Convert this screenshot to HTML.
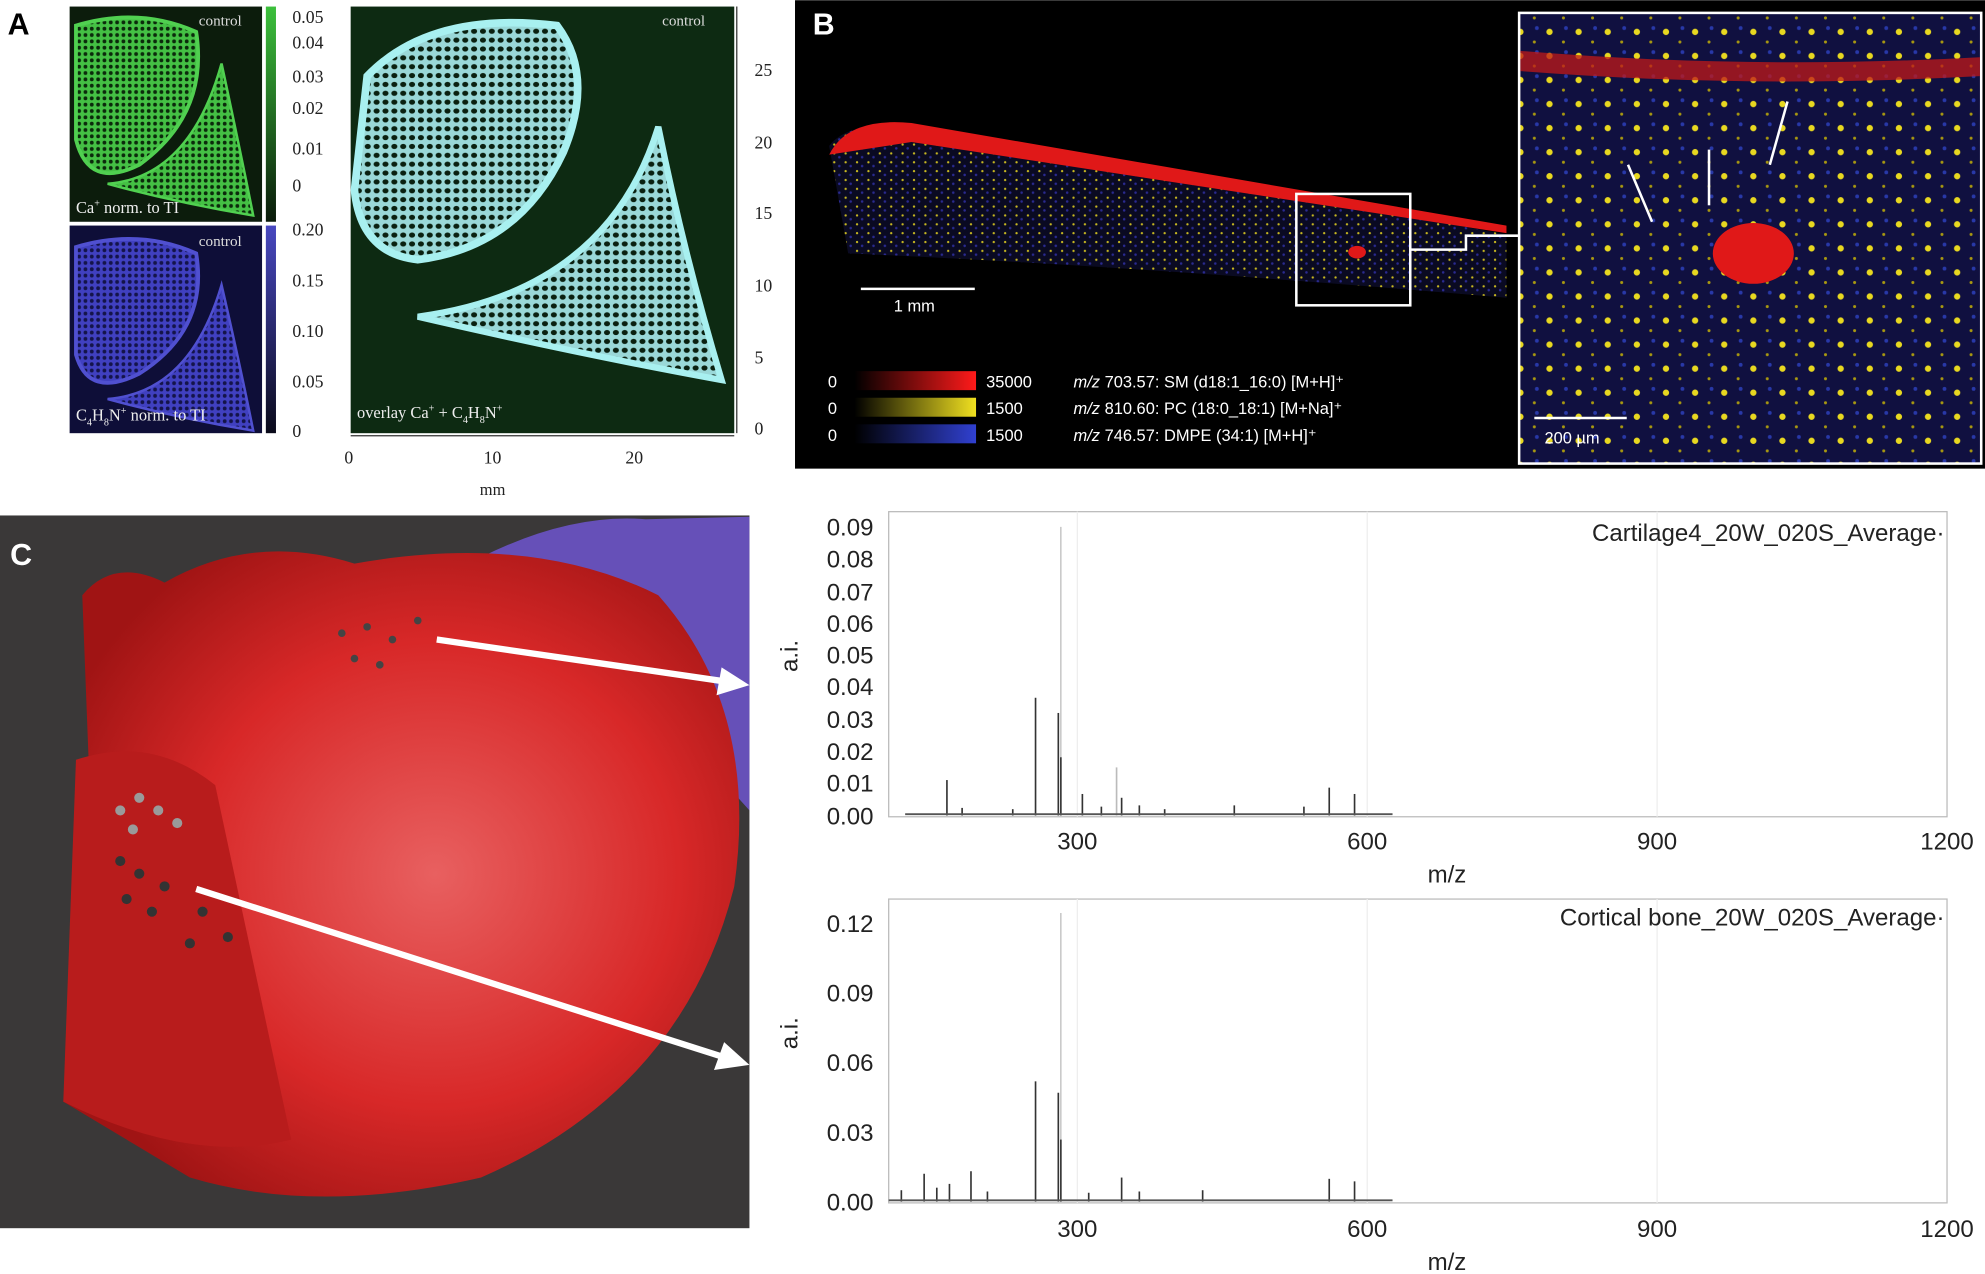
<!DOCTYPE html>
<html><head><meta charset="utf-8"><style>
html,body{margin:0;padding:0;background:#fff;}
svg{display:block;font-family:"Liberation Sans",sans-serif;}
.serif{font-family:"Liberation Serif",serif;}
</style></head><body>
<svg width="1985" height="1274" viewBox="0 0 1568 1006" xmlns="http://www.w3.org/2000/svg">
<defs>
<linearGradient id="gG" x1="0" y1="1" x2="0" y2="0"><stop offset="0" stop-color="#0a1a0a"/><stop offset="1" stop-color="#3cc03c"/></linearGradient>
<linearGradient id="gB" x1="0" y1="1" x2="0" y2="0"><stop offset="0" stop-color="#0a0a1a"/><stop offset="1" stop-color="#4848c0"/></linearGradient>
<linearGradient id="cR" x1="0" x2="1"><stop offset="0" stop-color="#000"/><stop offset="1" stop-color="#ff1a1a"/></linearGradient>
<linearGradient id="cY" x1="0" x2="1"><stop offset="0" stop-color="#000"/><stop offset="1" stop-color="#f0e020"/></linearGradient>
<linearGradient id="cBl" x1="0" x2="1"><stop offset="0" stop-color="#000"/><stop offset="1" stop-color="#3040d0"/></linearGradient>
<radialGradient id="meat" cx="0.55" cy="0.5" r="0.6"><stop offset="0" stop-color="#e86060"/><stop offset="0.6" stop-color="#d82828"/><stop offset="1" stop-color="#a01414"/></radialGradient>
<pattern id="holes" width="7" height="7" patternUnits="userSpaceOnUse"><rect width="7" height="7" fill="#9ad8d8"/><ellipse cx="3.5" cy="3.5" rx="2.4" ry="2" fill="#0a2010"/></pattern>
<pattern id="holesG" width="5" height="5" patternUnits="userSpaceOnUse"><rect width="5" height="5" fill="#44c044"/><circle cx="2.5" cy="2.5" r="1.5" fill="#0b2a0b"/></pattern>
<pattern id="holesB" width="5" height="5" patternUnits="userSpaceOnUse"><rect width="5" height="5" fill="#4040c0"/><circle cx="2.5" cy="2.5" r="1.5" fill="#14144a"/></pattern>
<pattern id="dots" width="23" height="19" patternUnits="userSpaceOnUse"><rect width="23" height="19" fill="#101040"/><circle cx="5" cy="6" r="2.5" fill="#e8d820"/><circle cx="16" cy="14" r="1.2" fill="#a89810"/><circle cx="18" cy="3" r="1.5" fill="#2838a8"/></pattern>
<pattern id="sdots" width="9" height="7" patternUnits="userSpaceOnUse"><rect width="9" height="7" fill="#0a0a22"/><circle cx="2" cy="2" r="0.9" fill="#c8b820"/><circle cx="6" cy="5" r="1" fill="#2a2a90"/></pattern>
</defs>

<!-- Panel A -->
<text x="6" y="27" font-size="24" font-weight="bold">A</text>
<rect x="55" y="5" width="152" height="170" fill="#0c1c0c"/>
<path d="M60 20 Q110 5 155 25 Q165 90 110 130 Q70 150 60 110Z" fill="url(#holesG)" stroke="#50d050" stroke-width="3"/>
<path d="M85 145 Q150 140 175 50 Q190 120 200 170 Q140 160 85 145Z" fill="url(#holesG)" stroke="#50d050" stroke-width="2"/>
<text x="157" y="20" font-size="12" fill="#ddd" class="serif">control</text>
<text x="60" y="168" font-size="13" fill="#eee" class="serif">Ca<tspan font-size="8" dy="-5">+</tspan><tspan dy="5"> norm. to TI</tspan></text>
<rect x="210" y="5" width="8" height="170" fill="url(#gG)"/>
<g font-size="14" class="serif" fill="#222"><text x="231" y="18">0.05</text><text x="231" y="38">0.04</text><text x="231" y="65">0.03</text><text x="231" y="90">0.02</text><text x="231" y="122">0.01</text><text x="231" y="151">0</text>
<text x="231" y="186">0.20</text><text x="231" y="226">0.15</text><text x="231" y="266">0.10</text><text x="231" y="306">0.05</text><text x="231" y="345">0</text></g>
<rect x="55" y="178" width="152" height="164" fill="#0e0e38"/>
<path d="M60 195 Q110 180 155 200 Q165 260 110 295 Q70 315 60 280Z" fill="url(#holesB)" stroke="#5050d0" stroke-width="3"/>
<path d="M85 315 Q150 310 175 225 Q190 290 200 340 Q140 330 85 315Z" fill="url(#holesB)" stroke="#5050d0" stroke-width="2"/>
<text x="157" y="194" font-size="12" fill="#ddd" class="serif">control</text>
<text x="60" y="332" font-size="13" fill="#eee" class="serif">C<tspan font-size="8" dy="4">4</tspan><tspan dy="-4">H</tspan><tspan font-size="8" dy="4">8</tspan><tspan dy="-4">N</tspan><tspan font-size="8" dy="-5">+</tspan><tspan dy="5"> norm. to TI</tspan></text>
<rect x="210" y="178" width="8" height="164" fill="url(#gB)"/>
<rect x="277" y="5" width="303" height="337" fill="#0d2a12"/>
<path d="M290 60 Q340 8 440 20 Q470 60 445 120 Q410 195 330 205 Q285 200 280 150Z" fill="url(#holes)" stroke="#a8f0f0" stroke-width="6"/>
<path d="M330 250 Q480 230 520 100 Q540 200 570 300 Q460 280 330 250Z" fill="url(#holes)" stroke="#a8f0f0" stroke-width="5"/>
<text x="523" y="20" font-size="12" fill="#ddd" class="serif">control</text>
<text x="282" y="330" font-size="13" fill="#eee" class="serif">overlay Ca<tspan font-size="8" dy="-5">+</tspan><tspan dy="5"> + C</tspan><tspan font-size="8" dy="4">4</tspan><tspan dy="-4">H</tspan><tspan font-size="8" dy="4">8</tspan><tspan dy="-4">N</tspan><tspan font-size="8" dy="-5">+</tspan></text>
<line x1="582" y1="5" x2="582" y2="342" stroke="#333"/>
<g font-size="14" class="serif" fill="#222"><text x="596" y="60">25</text><text x="596" y="117">20</text><text x="596" y="173">15</text><text x="596" y="230">10</text><text x="596" y="287">5</text><text x="596" y="343">0</text>
<text x="272" y="366">0</text><text x="382" y="366">10</text><text x="494" y="366">20</text><text x="379" y="391" font-size="13">mm</text></g>
<line x1="277" y1="344" x2="580" y2="344" stroke="#333"/>

<!-- Panel B -->
<rect x="628" y="0" width="940" height="370" fill="#000"/>
<text x="642" y="27" font-size="24" font-weight="bold" fill="#fff">B</text>
<path d="M655 115 Q670 95 720 100 L1190 185 L1190 235 Q900 210 670 200Z" fill="url(#sdots)"/>
<path d="M655 122 Q670 92 720 97 L1190 178 L1190 184 L720 112Z" fill="#e01818"/>
<rect x="1024" y="153" width="90" height="88" fill="none" stroke="#fff" stroke-width="2"/>
<ellipse cx="1072" cy="199" rx="7" ry="5" fill="#e01818"/>
<polyline points="1114,197 1158,197 1158,186 1200,186" fill="none" stroke="#fff" stroke-width="2"/>
<line x1="680" y1="228" x2="770" y2="228" stroke="#fff" stroke-width="2"/>
<text x="706" y="246" font-size="13" fill="#fff">1 mm</text>
<rect x="675" y="293" width="96" height="15" fill="url(#cR)"/>
<rect x="675" y="314" width="96" height="15" fill="url(#cY)"/>
<rect x="675" y="335" width="96" height="15" fill="url(#cBl)"/>
<g font-size="13" fill="#fff"><text x="654" y="306">0</text><text x="654" y="327">0</text><text x="654" y="348">0</text>
<text x="779" y="306">35000</text><text x="779" y="327">1500</text><text x="779" y="348">1500</text>
<text x="848" y="306"><tspan font-style="italic">m/z</tspan> 703.57: SM (d18:1_16:0) [M+H]⁺</text>
<text x="848" y="327"><tspan font-style="italic">m/z</tspan> 810.60: PC (18:0_18:1) [M+Na]⁺</text>
<text x="848" y="348"><tspan font-style="italic">m/z</tspan> 746.57: DMPE (34:1) [M+H]⁺</text></g>
<rect x="1200" y="10" width="365" height="356" fill="url(#dots)" stroke="#fff" stroke-width="2"/>
<path d="M1201 40 Q1380 55 1564 45 L1564 60 Q1380 70 1201 56Z" fill="#c01818" opacity="0.75"/>
<ellipse cx="1385" cy="200" rx="32" ry="24" fill="#e01818"/>
<g stroke="#fff" stroke-width="2"><line x1="1286" y1="130" x2="1305" y2="175"/><line x1="1350" y1="118" x2="1350" y2="162"/><line x1="1412" y1="80" x2="1398" y2="130"/></g>
<line x1="1212" y1="330" x2="1285" y2="330" stroke="#fff" stroke-width="2"/>
<text x="1220" y="350" font-size="13" fill="#fff">200  µm</text>

<!-- Panel C photo -->
<rect x="0" y="407" width="592" height="563" fill="#3a3838"/>
<path d="M380 440 Q450 405 510 410 L592 408 L592 640 L520 560Z" fill="#6650b8"/>
<path d="M65 470 Q90 440 130 460 Q200 420 280 445 Q420 420 520 470 Q600 560 580 700 Q540 860 380 930 Q250 960 150 930 Q100 900 50 870 Q75 700 70 600Z" fill="url(#meat)"/>
<path d="M60 600 Q120 580 170 620 Q200 760 230 900 Q150 920 50 870Z" fill="#b81c1c"/>
<g fill="#444"><circle cx="270" cy="500" r="3"/><circle cx="290" cy="495" r="3"/><circle cx="310" cy="505" r="3"/><circle cx="280" cy="520" r="3"/><circle cx="300" cy="525" r="3"/><circle cx="330" cy="490" r="3"/></g>
<g fill="#9a9a9a"><circle cx="95" cy="640" r="4"/><circle cx="110" cy="630" r="4"/><circle cx="125" cy="640" r="4"/><circle cx="105" cy="655" r="4"/><circle cx="140" cy="650" r="4"/></g>
<g fill="#333"><circle cx="95" cy="680" r="4"/><circle cx="110" cy="690" r="4"/><circle cx="130" cy="700" r="4"/><circle cx="100" cy="710" r="4"/><circle cx="120" cy="720" r="4"/><circle cx="160" cy="720" r="4"/><circle cx="180" cy="740" r="4"/><circle cx="150" cy="745" r="4"/></g>
<text x="8" y="446" font-size="24" font-weight="bold" fill="#fff">C</text>
<g stroke="#fff" stroke-width="5"><line x1="345" y1="505" x2="572" y2="538"/><line x1="155" y1="702" x2="572" y2="835"/></g>
<polygon points="592,541 566,549 570,527" fill="#fff"/>
<polygon points="592,841 564,845 572,823" fill="#fff"/>

<!-- Spectra -->
<g font-size="19" fill="#222">
<rect x="702" y="404" width="836" height="241" fill="none" stroke="#bbb"/>
<g stroke="#eee"><line x1="851" y1="404" x2="851" y2="645"/><line x1="1080" y1="404" x2="1080" y2="645"/><line x1="1309" y1="404" x2="1309" y2="645"/></g>
<g text-anchor="end"><text x="690" y="423">0.09</text><text x="690" y="448">0.08</text><text x="690" y="474">0.07</text><text x="690" y="499">0.06</text><text x="690" y="524">0.05</text><text x="690" y="549">0.04</text><text x="690" y="575">0.03</text><text x="690" y="600">0.02</text><text x="690" y="625">0.01</text><text x="690" y="651">0.00</text>
<text x="1536" y="427">Cartilage4_20W_020S_Average·</text></g>
<text x="630" y="518" transform="rotate(-90 630 518)" text-anchor="middle">a.i.</text>
<g text-anchor="middle"><text x="851" y="671">300</text><text x="1080" y="671">600</text><text x="1309" y="671">900</text><text x="1538" y="671">1200</text><text x="1143" y="697">m/z</text></g>
<line x1="838" y1="416" x2="838" y2="644" stroke="#bbb"/>
<g stroke="#333" stroke-width="1.3">
<line x1="748" y1="644" x2="748" y2="616"/><line x1="818" y1="644" x2="818" y2="551"/><line x1="836" y1="644" x2="836" y2="563"/><line x1="838" y1="644" x2="838" y2="598"/>
<line x1="855" y1="644" x2="855" y2="627"/><line x1="882" y1="644" x2="882" y2="606" stroke="#bbb"/><line x1="886" y1="644" x2="886" y2="630"/><line x1="1050" y1="644" x2="1050" y2="622"/><line x1="1070" y1="644" x2="1070" y2="627"/><line x1="975" y1="644" x2="975" y2="636"/>
<line x1="760" y1="644" x2="760" y2="638"/><line x1="800" y1="644" x2="800" y2="639"/><line x1="870" y1="644" x2="870" y2="637"/><line x1="900" y1="644" x2="900" y2="636"/><line x1="920" y1="644" x2="920" y2="639"/><line x1="1030" y1="644" x2="1030" y2="637"/></g>
<path d="M715 643 L1100 643" stroke="#555" stroke-width="1.5"/>

<rect x="702" y="710" width="836" height="240" fill="none" stroke="#bbb"/>
<g stroke="#eee"><line x1="851" y1="710" x2="851" y2="950"/><line x1="1080" y1="710" x2="1080" y2="950"/><line x1="1309" y1="710" x2="1309" y2="950"/></g>
<g text-anchor="end"><text x="690" y="736">0.12</text><text x="690" y="791">0.09</text><text x="690" y="846">0.06</text><text x="690" y="901">0.03</text><text x="690" y="956">0.00</text>
<text x="1536" y="731">Cortical bone_20W_020S_Average·</text></g>
<text x="630" y="816" transform="rotate(-90 630 816)" text-anchor="middle">a.i.</text>
<g text-anchor="middle"><text x="851" y="977">300</text><text x="1080" y="977">600</text><text x="1309" y="977">900</text><text x="1538" y="977">1200</text><text x="1143" y="1003">m/z</text></g>
<line x1="838" y1="721" x2="838" y2="949" stroke="#bbb"/>
<g stroke="#333" stroke-width="1.3">
<line x1="730" y1="949" x2="730" y2="927"/><line x1="750" y1="949" x2="750" y2="935"/><line x1="767" y1="949" x2="767" y2="925"/><line x1="818" y1="949" x2="818" y2="854"/><line x1="836" y1="949" x2="836" y2="863"/><line x1="838" y1="949" x2="838" y2="900"/>
<line x1="886" y1="949" x2="886" y2="930"/><line x1="950" y1="949" x2="950" y2="940"/><line x1="1050" y1="949" x2="1050" y2="931"/><line x1="1070" y1="949" x2="1070" y2="933"/>
<line x1="712" y1="949" x2="712" y2="940"/><line x1="740" y1="949" x2="740" y2="938"/><line x1="780" y1="949" x2="780" y2="941"/><line x1="860" y1="949" x2="860" y2="942"/><line x1="900" y1="949" x2="900" y2="941"/></g>
<path d="M702 948 L1100 948" stroke="#555" stroke-width="1.5"/>
</g>
</svg>
</body></html>
